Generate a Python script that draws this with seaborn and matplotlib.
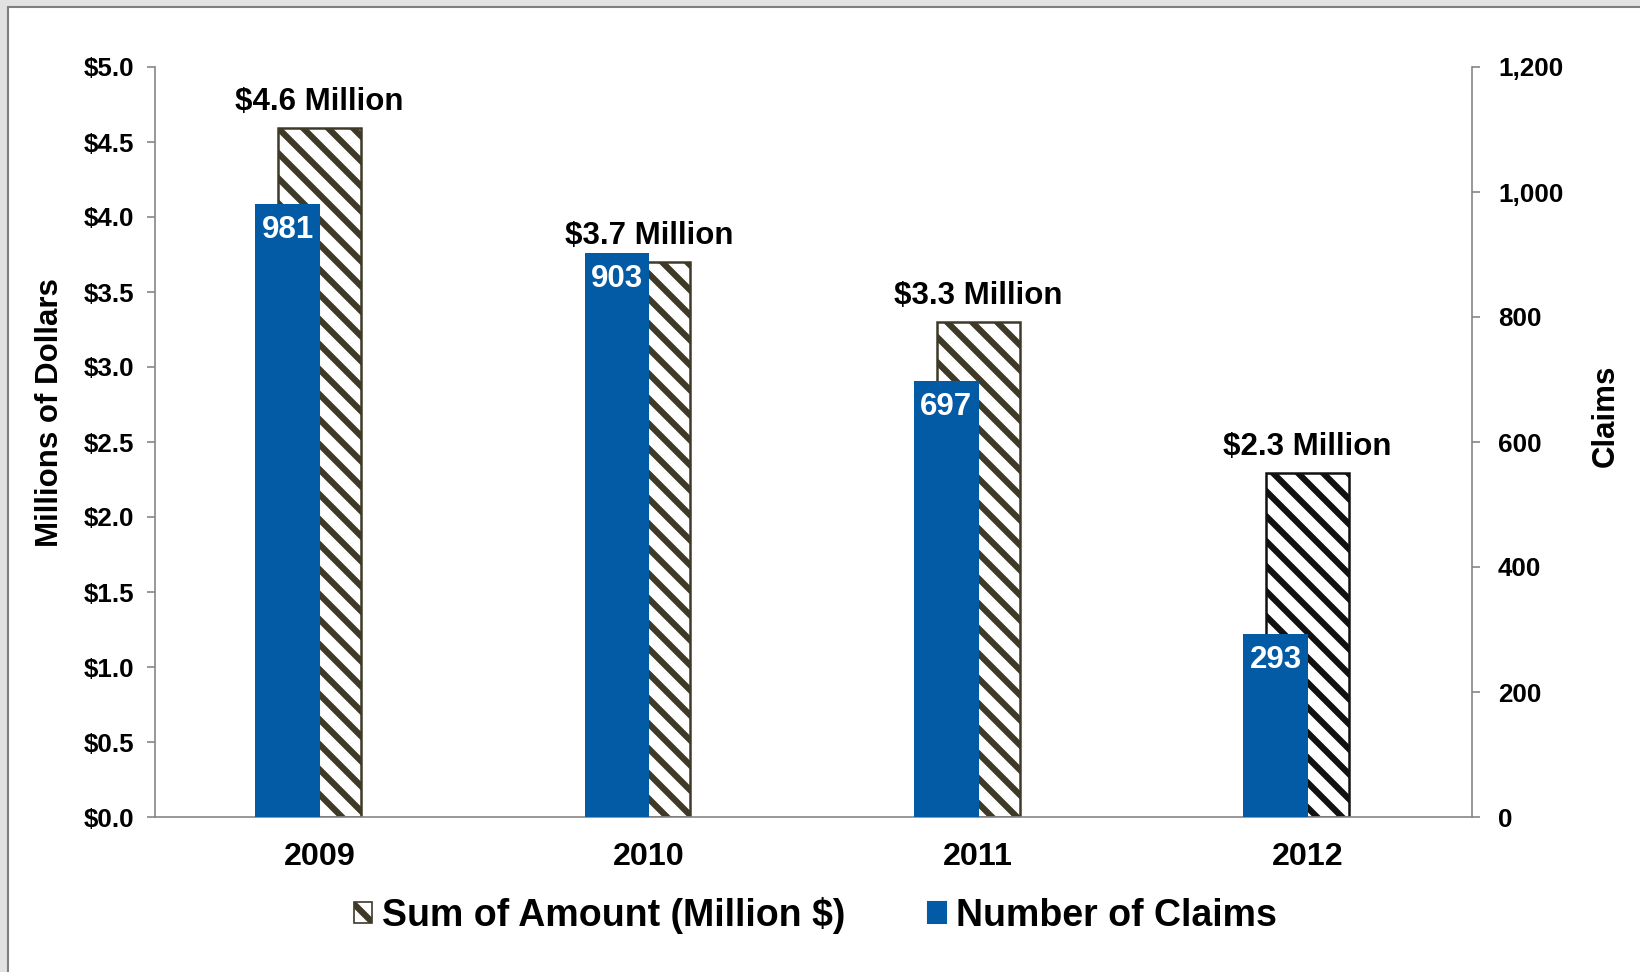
import matplotlib
matplotlib.use("Agg")
import matplotlib.pyplot as plt
import seaborn as sns
import numpy as np
from matplotlib.patches import Patch, Rectangle
from matplotlib.ticker import FuncFormatter

years = ["2009", "2010", "2011", "2012"]
amount = [4.59, 3.70, 3.30, 2.29]
claims = [981, 903, 697, 293]
amount_labels = ["$4.6 Million", "$3.7 Million", "$3.3 Million", "$2.3 Million"]
claim_labels = ["981", "903", "697", "293"]

BLUE = "#035BA5"
OLIVE = "#3E3A27"
SPINE = "#868686"

sns.set_style("white")
plt.rcParams["font.family"] = ["Liberation Sans", "DejaVu Sans"]
plt.rcParams["font.weight"] = "bold"
plt.rcParams["hatch.linewidth"] = 3.0
plt.rcParams["text.color"] = "black"
plt.rcParams["axes.labelcolor"] = "black"
plt.rcParams["xtick.color"] = "black"
plt.rcParams["ytick.color"] = "black"

DPI = 150
fig = plt.figure(figsize=(1640 / DPI, 972 / DPI), dpi=DPI)
fig.patch.set_facecolor("#e2e2e2")
fig.patches.append(Rectangle((8 / 1640, -0.1), 2.0, 1.1 - 7 / 972, transform=fig.transFigure,
                             facecolor="white", edgecolor="#7f7f7f", linewidth=1.0, zorder=-10))

ax = fig.add_axes([155 / 1640, 1 - 817 / 972, (1472 - 155) / 1640, (817 - 67) / 972])
ax.patch.set_alpha(0)

sns.barplot(x=years, y=amount, ax=ax, color="white", saturation=1, width=0.252,
            edgecolor=OLIVE, linewidth=1.2, hatch="\\\\", errorbar=None)
# last bar hatch darker
ax.patches[3].set_edgecolor("#111111")

ax2 = ax.twinx()
sns.barplot(x=years, y=claims, ax=ax2, color=BLUE, saturation=1, width=0.197,
            linewidth=0, errorbar=None)
for p in ax2.patches:
    p.set_x(p.get_x() - 0.097)

ax.set_xlim(-0.5, 3.5)
ax2.set_xlim(-0.5, 3.5)
ax.set_ylim(0, 5)
ax2.set_ylim(0, 1200)
ax.set_yticks(np.arange(0, 5.01, 0.5))
ax2.set_yticks(np.arange(0, 1201, 200))
ax.yaxis.set_major_formatter(FuncFormatter(lambda v, _: f"${v:.1f}"))
ax2.yaxis.set_major_formatter(FuncFormatter(lambda v, _: f"{int(v):,}"))

for a in (ax, ax2):
    for s in a.spines.values():
        s.set_color(SPINE)
        s.set_linewidth(0.8)
ax.spines["top"].set_visible(False)
ax.spines["right"].set_visible(False)
ax2.spines["top"].set_visible(False)
ax2.spines["left"].set_visible(False)
ax2.spines["bottom"].set_visible(False)

ax.tick_params(axis="y", which="major", direction="out", length=4, width=0.8,
               color=SPINE, labelcolor="black", pad=6, labelsize=12.5, left=True)
ax2.tick_params(axis="y", which="major", direction="out", length=4, width=0.8,
                color=SPINE, labelcolor="black", pad=8.5, labelsize=12.5, right=True)
ax.tick_params(axis="x", length=0, pad=12, labelsize=15.5, labelcolor="black")
ax2.tick_params(axis="x", length=0, labelbottom=False)
for lab in ax.get_xticklabels() + ax.get_yticklabels() + ax2.get_yticklabels():
    lab.set_fontweight("bold")

ax.set_xlabel("")
ax2.set_xlabel("")
ax.set_ylabel("Millions of Dollars", fontsize=15, fontweight="bold", color="black")
ax.yaxis.set_label_coords(-0.068, 0.539)
ax2.set_ylabel("Claims", fontsize=15, fontweight="bold", rotation=90, color="black")
ax2.yaxis.set_label_coords(1.090, 0.535)

for i, (v, lab) in enumerate(zip(amount, amount_labels)):
    ax.annotate(lab, xy=(i, v), xytext=(0, 12.5), textcoords="offset points",
                ha="center", va="center", fontsize=15, fontweight="bold", color="black")
for p, lab in zip(ax2.patches, claim_labels):
    cx = p.get_x() + p.get_width() / 2
    ax2.annotate(lab, xy=(cx, p.get_height()), xytext=(0, -12.5), textcoords="offset points",
                 ha="center", va="center", fontsize=15, fontweight="bold", color="white")

handles = [Patch(facecolor="white", edgecolor=OLIVE, hatch="\\\\", linewidth=0.8),
           Patch(facecolor=BLUE, edgecolor=BLUE)]
fig.legend(handles, ["Sum of Amount (Million $)", "Number of Claims"],
           loc="center", bbox_to_anchor=(815 / 1640, 1 - 915 / 972), ncol=2,
           frameon=False, prop={"size": 18, "weight": "bold"}, labelcolor="black",
           handlelength=0.5, handleheight=0.5, handletextpad=0.25, columnspacing=2.2)

fig.savefig("out.png", dpi=DPI, facecolor=fig.get_facecolor())
